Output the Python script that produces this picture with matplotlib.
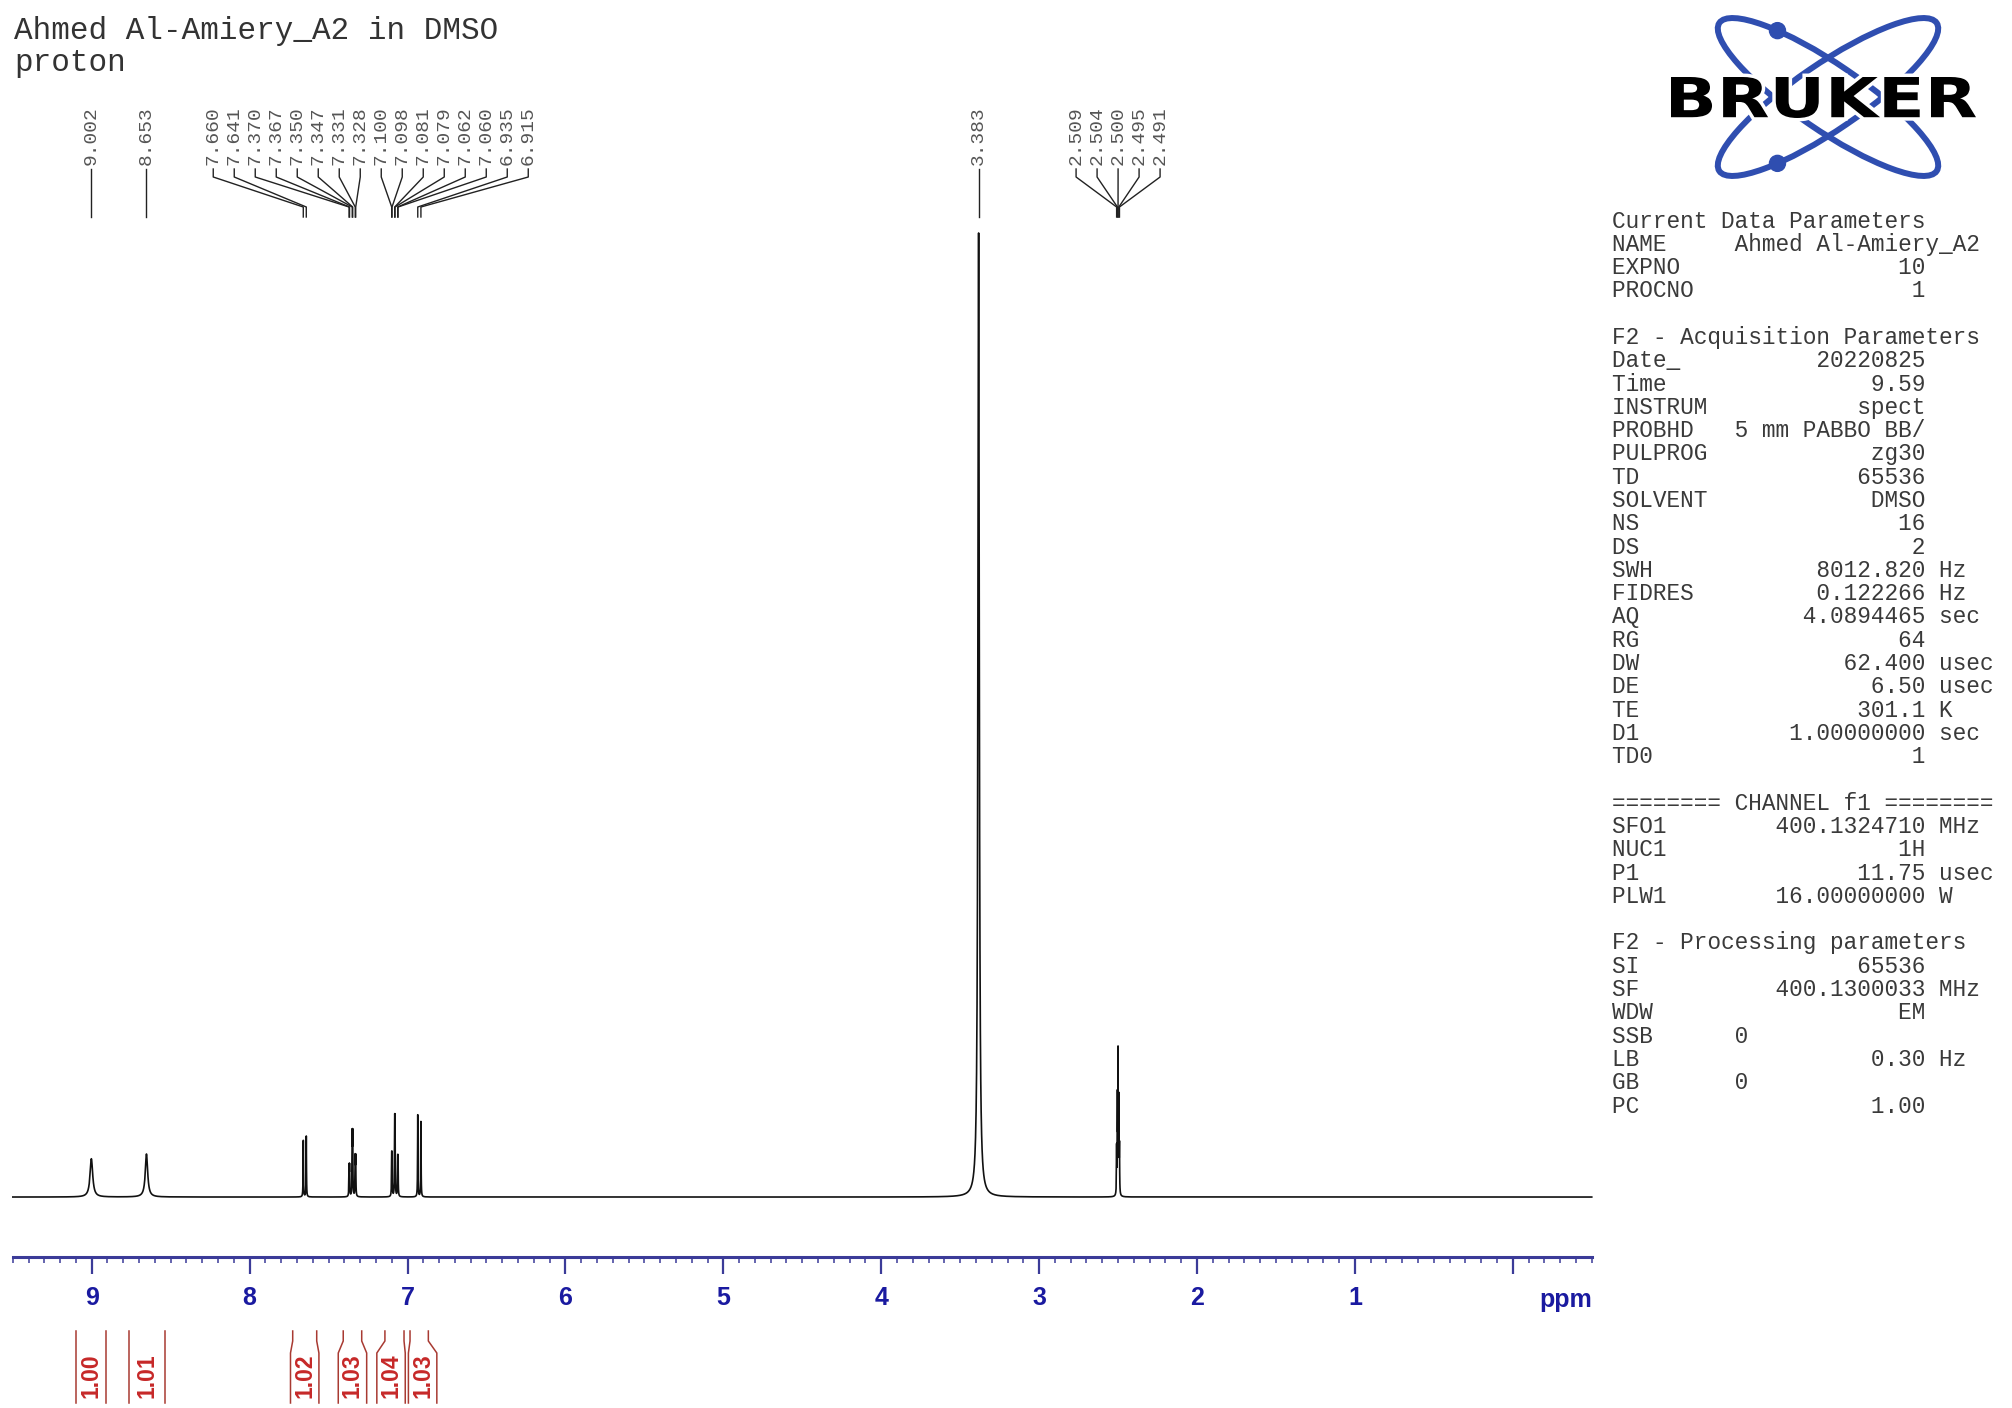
import numpy as np
import matplotlib
matplotlib.use("Agg")
import matplotlib.pyplot as plt
from matplotlib import transforms
from matplotlib.patches import Ellipse, Circle, PathPatch
from matplotlib.textpath import TextPath
from matplotlib.font_manager import FontProperties
from matplotlib.ticker import MultipleLocator
from matplotlib.transforms import Affine2D

W, H, DPI = 2012, 1408, 100

# peak picking, grouped as Bruker labels them
label_groups = [
    [9.002],
    [8.653],
    [7.660, 7.641, 7.370, 7.367, 7.350, 7.347, 7.331, 7.328,
     7.100, 7.098, 7.081, 7.079, 7.062, 7.060, 6.935, 6.915],
    [3.383],
    [2.509, 2.504, 2.500, 2.495, 2.491],
]
# line heights (% of the 3.383 line) and half widths (ppm), same order
peak_height = [3.97, 4.46,
               5.85, 6.3, 2.97, 2.97, 6.07, 6.07, 3.82, 3.82,
               3.6, 3.6, 6.6, 6.6, 3.34, 3.34, 8.5, 7.8,
               100.0,
               4.7, 9.5, 14.2, 9.5, 4.7]
peak_hwhm = [0.010, 0.009] + [0.0013] * 16 + [0.005] + [0.0012] * 5

# integrals
integral_limits = [(9.099, 8.909), (8.762, 8.536), (7.727, 7.575),
                   (7.407, 7.290), (7.143, 7.022), (6.984, 6.868)]
integral_values = [1.00, 1.01, 1.02, 1.03, 1.04, 1.03]

axis_ticks = [9, 8, 7, 6, 5, 4, 3, 2, 1, 0]
axis_labels = ["9", "8", "7", "6", "5", "4", "3", "2", "1", ""]

title_lines = ["Ahmed Al-Amiery_A2 in DMSO", "proton"]

param_lines = [
    ("Current Data Parameters", "", ""),
    ("NAME", "Ahmed Al-Amiery_A2", ""),
    ("EXPNO", "10", ""),
    ("PROCNO", "1", ""),
    ("", "", ""),
    ("F2 - Acquisition Parameters", "", ""),
    ("Date_", "20220825", ""),
    ("Time", "9.59", ""),
    ("INSTRUM", "spect", ""),
    ("PROBHD", "5 mm PABBO BB/", ""),
    ("PULPROG", "zg30", ""),
    ("TD", "65536", ""),
    ("SOLVENT", "DMSO", ""),
    ("NS", "16", ""),
    ("DS", "2", ""),
    ("SWH", "8012.820", "Hz"),
    ("FIDRES", "0.122266", "Hz"),
    ("AQ", "4.0894465", "sec"),
    ("RG", "64", ""),
    ("DW", "62.400", "usec"),
    ("DE", "6.50", "usec"),
    ("TE", "301.1", "K"),
    ("D1", "1.00000000", "sec"),
    ("TD0", "1", ""),
    ("", "", ""),
    ("======== CHANNEL f1 ========", "", ""),
    ("SFO1", "400.1324710", "MHz"),
    ("NUC1", "1H", ""),
    ("P1", "11.75", "usec"),
    ("PLW1", "16.00000000", "W"),
    ("", "", ""),
    ("F2 - Processing parameters", "", ""),
    ("SI", "65536", ""),
    ("SF", "400.1300033", "MHz"),
    ("WDW", "EM", ""),
    ("SSB", "0", ""),
    ("LB", "0.30", "Hz"),
    ("GB", "0", ""),
    ("PC", "1.00", ""),
]
left_aligned = {"NAME", "SSB", "GB"}

AX_BLUE = "#3b3b98"
LBL_BLUE = "#1a1aa0"
INT_RED = "#c62828"
INT_LINE = "#a83a32"
TXT = "#3a3a3a"


def fx(px):
    return px / W


def fy(py):
    return 1 - py / H


fig = plt.figure(figsize=(W / DPI, H / DPI), dpi=DPI)

# spectrum axes: bottom spine is the ppm scale
ax = fig.add_axes([fx(12.75), fy(1257), 1579 / W, (1257 - 233) / H])
ax.set_xlim(9.5, -0.5)
ax.set_ylim(-6.22, 100)
for s in ("left", "right", "top"):
    ax.spines[s].set_visible(False)
ax.spines["bottom"].set_color(AX_BLUE)
ax.spines["bottom"].set_linewidth(2.2)
ax.set_yticks([])
ax.set_xticks(axis_ticks, axis_labels, fontweight="bold",
              fontfamily="Liberation Sans", fontsize=18, color=LBL_BLUE)
ax.xaxis.set_minor_locator(MultipleLocator(0.1))
ax.tick_params(axis="x", which="major", length=12, width=1.6,
               color=AX_BLUE, pad=9)
ax.tick_params(axis="x", which="minor", length=4.5, width=1.1,
               color=AX_BLUE)

peak_ppm = [p for g in label_groups for p in g]
x = np.union1d(np.arange(-0.5, 9.5, 0.0005), peak_ppm)
y = np.zeros_like(x)
for p, h, w in zip(peak_ppm, peak_height, peak_hwhm):
    y += h / (1 + ((x - p) / w) ** 2)
ax.plot(x, y, color="#111111", lw=1.2, clip_on=False)

trans = transforms.blended_transform_factory(ax.transData, fig.transFigure)

ax.text(-0.5, fy(1306.5), "ppm", transform=trans, ha="right",
        va="baseline", fontsize=18, fontweight="bold",
        family="Liberation Sans", color=LBL_BLUE)

# peak labels
LABEL_PITCH = 0.133
for g in label_groups:
    n = len(g)
    mid = np.mean(g)
    for i, p in enumerate(g):
        lx = mid + ((n - 1) / 2 - i) * LABEL_PITCH
        ax.text(lx, fy(165), f"{p:.3f}", transform=trans, rotation=90,
                ha="center", va="bottom", fontsize=14,
                family="Liberation Mono", color="#555555")
        ax.plot([lx, lx, p, p], [fy(169), fy(177), fy(207), fy(217)],
                transform=trans, color="#222222", lw=1.0, clip_on=False)

# integrals
HALF = 0.09
MIN_SEP = 0.2
centers = [(a + b) / 2 for a, b in integral_limits]
for i in range(len(centers) - 1):
    d = centers[i] - centers[i + 1]
    if d < MIN_SEP:
        sh = (MIN_SEP - d) / 2
        centers[i] += sh
        centers[i + 1] -= sh
for (a, b), c, v in zip(integral_limits, centers, integral_values):
    la = max(a, c + HALF)
    lb = min(b, c - HALF)
    ys = [fy(1331), fy(1341), fy(1353), fy(1403)]
    ax.plot([a, a, la, la], ys, transform=trans, color=INT_LINE, lw=1.1,
            clip_on=False)
    ax.plot([b, b, lb, lb], ys, transform=trans, color=INT_LINE, lw=1.1,
            clip_on=False)
    ax.text(c, fy(1398), f"{v:.2f}", transform=trans, rotation=90,
            ha="center", va="bottom", fontsize=16.5, fontweight="bold",
            family="Liberation Sans", color=INT_RED)

# title
for k, t in enumerate(title_lines):
    fig.text(fx(14), fy(39 + 32 * k), t, family="Liberation Mono",
             fontsize=22.3, color="#333333", va="baseline")

# parameter block
for k, (name, val, unit) in enumerate(param_lines):
    if val:
        s = name.ljust(9) + (val.ljust(14) if name in left_aligned
                             else val.rjust(14))
        if unit:
            s += " " + unit
        s = s.rstrip()
    else:
        s = name
    fig.text(fx(1612), fy(227.5 + 23.29 * k), s, family="Liberation Mono",
             fontsize=16.4, color=TXT, va="baseline")

# Bruker logo, drawn in pixel units
lg = fig.add_axes([fx(1650), fy(190), 340 / W, 180 / H])
lg.set_xlim(1650, 1990)
lg.set_ylim(190, 10)
lg.axis("off")
blue = "#2f4eb0"
cx, cy, ea, eb, th = 1828, 97, 131.5, 33, 34.3
for sgn in (1, -1):
    lg.add_patch(Ellipse((cx, cy), 2 * ea, 2 * eb, angle=sgn * th,
                         fill=False, ec=blue, lw=4.3, zorder=1))
    t = np.deg2rad(233)
    r = np.deg2rad(th)
    px = cx + ea * np.cos(t) * np.cos(r) - eb * np.sin(t) * np.sin(r)
    py = cy + sgn * (ea * np.cos(t) * np.sin(r) + eb * np.sin(t) * np.cos(r))
    lg.add_patch(Circle((px, py), 8, color=blue, zorder=1))
tp = TextPath((0, 0), "BRUKER", size=1,
              prop=FontProperties(family="DejaVu Sans", weight="bold"))
bb = tp.get_extents()
tr = (Affine2D().translate(-bb.x0, -bb.y0)
      .scale(305 / bb.width, -41 / bb.height).translate(1671, 118))
logo_path = tr.transform_path(tp)
lg.add_patch(PathPatch(logo_path, fc="white", ec="white", lw=5, zorder=2))
lg.add_patch(PathPatch(logo_path, fc="black", ec="none", zorder=3))

fig.savefig("out.png", dpi=DPI)
